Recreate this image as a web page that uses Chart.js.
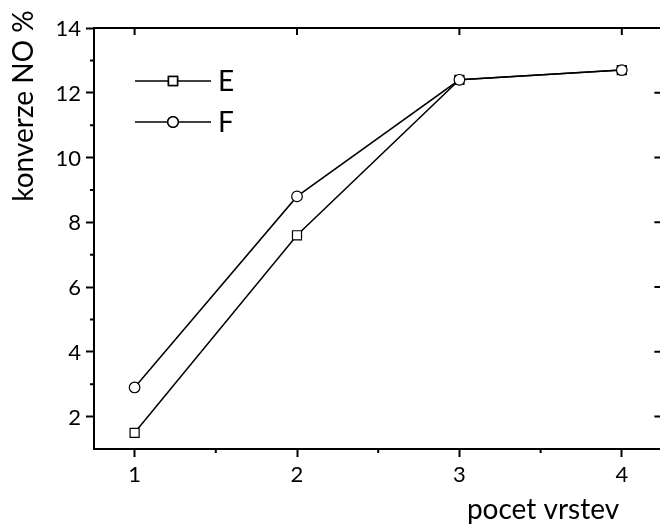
<!DOCTYPE html>
<html>
<head>
<meta charset="utf-8">
<script src="https://cdn.jsdelivr.net/npm/chart.js@4.4.1/dist/chart.umd.min.js"></script>
<style>
  html, body { margin: 0; padding: 0; background: #fff; overflow: hidden; }
  #wrap { width: 670px; height: 524px; }
</style>
</head>
<body>
<div id="wrap"><canvas id="chart" width="670" height="524"></canvas></div>
<script>
// values
const layers = [1, 2, 3, 4]
const seriesE = [1.5, 7.6, 12.4, 12.7]
const seriesF = [2.9, 8.8, 12.4, 12.7]
const xTicks = [1, 2, 3, 4]
const xMinor = [1.5, 2.5, 3.5]
const yTicks = [2, 4, 6, 8, 10, 12, 14]
const yMinor = [3, 5, 7, 9, 11, 13]
const xTitle = 'pocet vrstev'
const yTitle = 'konverze NO %'

const FONT = 'Lato, "Open Sans", sans-serif'
const ctx = document.getElementById('chart').getContext('2d')

// frame: top/right spines, inward ticks, minor ticks, tick labels, axis titles, legend
const framePlugin = {
  id: 'frame',
  afterDraw(chart) {
    const c = chart.ctx
    const a = chart.chartArea
    const xs = chart.scales.x
    const ys = chart.scales.y
    c.save()
    c.strokeStyle = '#000'
    c.lineWidth = 2
    c.beginPath()
    c.moveTo(a.left, a.top); c.lineTo(a.right, a.top)
    c.moveTo(a.right, a.top); c.lineTo(a.right, a.bottom)
    // top inward ticks
    xTicks.forEach(v => {
      const px = xs.getPixelForValue(v)
      c.moveTo(px, a.top); c.lineTo(px, a.top + 7)
    })
    // right inward ticks
    yTicks.forEach(v => {
      const py = ys.getPixelForValue(v)
      c.moveTo(a.right, py); c.lineTo(a.right - 8, py)
    })
    // minor ticks, outward
    xMinor.forEach(v => {
      const px = xs.getPixelForValue(v)
      c.moveTo(px, a.bottom); c.lineTo(px, a.bottom + 4)
    })
    yMinor.forEach(v => {
      const py = ys.getPixelForValue(v)
      c.moveTo(a.left, py); c.lineTo(a.left - 4, py)
    })
    c.stroke()

    // tick labels
    c.fillStyle = '#000'
    c.font = '22px ' + FONT
    c.textBaseline = 'alphabetic'
    c.textAlign = 'center'
    xs.ticks.forEach(t => {
      c.fillText(String(t.value), xs.getPixelForValue(t.value), a.bottom + 33)
    })
    c.textAlign = 'right'
    ys.ticks.forEach(t => {
      c.fillText(String(t.value), a.left - 13, ys.getPixelForValue(t.value) + 8)
    })

    // axis titles
    c.font = '28px ' + FONT
    c.textAlign = 'center'
    c.fillText(xTitle, 543, 519)
    c.save()
    c.translate(33, 106)
    c.rotate(-Math.PI / 2)
    c.fillText(yTitle, 0, 0)
    c.restore()

    // legend
    chart.data.datasets.forEach((ds, i) => {
      const y = 81 + i * 41
      c.lineWidth = 1.5
      c.beginPath()
      c.moveTo(135, y); c.lineTo(211, y)
      c.stroke()
      Chart.helpers.drawPoint(c, {
        pointStyle: ds.pointStyle,
        radius: ds.pointRadius,
        borderWidth: 1.2
      }, 173, y)
      c.fillStyle = '#fff'
      c.fill()
      c.stroke()
      c.fillStyle = '#000'
      c.font = '28px ' + FONT
      c.textAlign = 'left'
      c.textBaseline = 'middle'
      c.fillText(ds.label, 218, y + 1)
    })
    c.restore()
  }
}

new Chart(ctx, {
  type: 'line',
  data: {
    datasets: [{
      label: 'E',
      data: layers.map((x, i) => ({ x: x, y: seriesE[i] })),
      borderColor: '#000',
      borderWidth: 1.5,
      pointStyle: 'rect',
      pointRadius: 6.4,
      pointBorderWidth: 1.2,
      pointBackgroundColor: '#fff',
      pointBorderColor: '#000',
      tension: 0,
      order: 2
    }, {
      label: 'F',
      data: layers.map((x, i) => ({ x: x, y: seriesF[i] })),
      borderColor: '#000',
      borderWidth: 1.5,
      pointStyle: 'circle',
      pointRadius: 5.3,
      pointBorderWidth: 1.2,
      pointBackgroundColor: '#fff',
      pointBorderColor: '#000',
      tension: 0,
      order: 1
    }]
  },
  options: {
    responsive: false,
    animation: false,
    layout: { padding: { top: 28, right: 5, left: 0, bottom: 0 } },
    plugins: { legend: { display: false }, tooltip: { enabled: false } },
    scales: {
      x: {
        type: 'linear',
        min: 0.75,
        max: 4.25,
        afterBuildTicks: s => { s.ticks = xTicks.map(v => ({ value: v })) },
        afterFit: s => { s.height = 75 },
        grid: { drawOnChartArea: false, tickLength: 8, tickWidth: 2, tickColor: '#000' },
        border: { color: '#000', width: 2 },
        ticks: { display: false }
      },
      y: {
        min: 1,
        max: 14,
        afterBuildTicks: s => { s.ticks = yTicks.map(v => ({ value: v })) },
        afterFit: s => { s.width = 94 },
        grid: { drawOnChartArea: false, tickLength: 8, tickWidth: 2, tickColor: '#000' },
        border: { color: '#000', width: 2 },
        ticks: { display: false }
      }
    }
  },
  plugins: [framePlugin]
})
</script>
</body>
</html>
